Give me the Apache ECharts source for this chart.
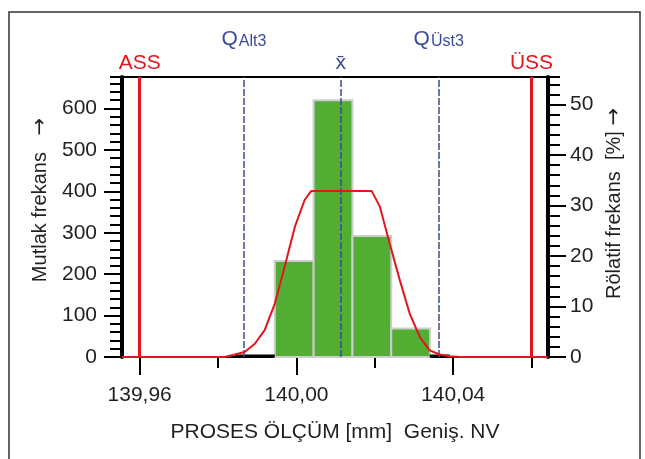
<!DOCTYPE html>
<html><head><meta charset="utf-8">
<script src="https://cdn.jsdelivr.net/npm/echarts@6/dist/echarts.min.js"></script>
<style>html,body{margin:0;padding:0;background:#fff}#c{width:645px;height:459px}</style>
</head><body><div id="c"></div>
<script>
// ---- data ----
const binStart = [139.9945, 140.0044, 140.0143, 140.0242];
const binEnd   = [140.0044, 140.0143, 140.0242, 140.0341];
const binCounts = [232, 620, 292, 69];
const tailStart = [139.9843, 140.0340];
const tailEnd   = [139.9945, 140.0391];
const curveX = [139.9555, 139.9817, 139.9843, 139.9868, 139.9894, 139.9919, 139.9945, 139.9970, 139.9996, 140.0021, 140.0038, 140.0192, 140.0213, 140.0238, 140.0264, 140.0289, 140.0315, 140.0340, 140.0366, 140.0391, 140.0417, 140.0642];
const curveY = [0, 0, 6, 12, 32, 65, 129, 218, 314, 379, 401, 401, 363, 274, 185, 105, 48, 16, 6, 2, 0, 0];
const limitNames = ['ASS', 'QAlt3', 'x̄', 'QÜst3', 'ÜSS'];
const limitValues = [139.96, 139.9866, 140.0113, 140.0363, 140.06];
const xRange = [139.9555, 140.0642];
const xAllTicks = [139.96, 139.98, 140.00, 140.02, 140.04, 140.06];
const xLabelTicks = [139.96, 140.00, 140.04];
const leftTicks = [0, 100, 200, 300, 400, 500, 600];
const rightTicks = [0, 10, 20, 30, 40, 50];
const countMax = 676;
const pctMax = 55.45;
const xTitle = 'PROSES ÖLÇÜM [mm]  Geniş. NV';
const leftTitle = '{t|Mutlak frekans}   {a|→}';
const rightTitle = '{t|Rölatif frekans  [%]} {a|→}';

// ---- styles ----
const FONT = '"Liberation Sans", Arial, sans-serif';
const TXT = '#231f20';
const RED = '#e3161d';
const BLUE = '#3b4a9c';
const GREEN = '#52ad33';

const bins = binStart.map((s, i) => [s, binEnd[i], binCounts[i]]);
const tails = tailStart.map((s, i) => [s, tailEnd[i]]);
const curve = curveX.map((x, i) => [x, curveY[i]]);

const redLine = {color: RED, width: 3, type: 'solid'};
const blueLine = {color: BLUE, width: 1.5, type: [7, 2]};
const limitStyles = [
  {line: redLine, label: {formatter: '{r|ASS}', distance: 3}},
  {line: blueLine, label: {formatter: '{q|Q}{s|Alt3}', distance: 27}},
  {line: blueLine, label: {formatter: '{b|x\u0304}', distance: 3}},
  {line: blueLine, label: {formatter: '{q|Q}{s|Üst3}', distance: 27}},
  {line: redLine, label: {formatter: '{r|ÜSS}', distance: 3}}
];
const rich = {
  r: {color: RED, fontSize: 21, fontFamily: FONT},
  b: {color: BLUE, fontSize: 21, fontFamily: FONT},
  q: {color: BLUE, fontSize: 21, fontFamily: FONT},
  s: {color: BLUE, fontSize: 16, fontFamily: FONT, verticalAlign: 'bottom', padding: [0, 0, 0, 1]}
};
const nameRich = {
  t: {color: TXT, fontSize: 20, fontFamily: FONT},
  a: {color: TXT, fontSize: 21, fontFamily: '"DejaVu Sans", sans-serif'}
};

const tickStyle = {color: '#000', width: 2};
const labelStyle = {color: TXT, fontSize: 21, fontFamily: FONT};

const chart = echarts.init(document.getElementById('c'));
chart.setOption({
  animation: false,
  backgroundColor: '#fff',
  graphic: [{type: 'rect', shape: {x: 9, y: 12, width: 631, height: 470}, style: {fill: 'none', stroke: '#333', lineWidth: 1.5}, z: 100}],
  grid: {left: 122, right: 97, top: 77, bottom: 102, containLabel: false},
  xAxis: [
    {type: 'value', min: xRange[0], max: xRange[1], position: 'bottom',
     axisLine: {show: true, onZero: false, lineStyle: {color: '#000', width: 2}},
     axisTick: {show: true, customValues: xAllTicks, length: 11, lineStyle: tickStyle},
     axisLabel: {show: false}, splitLine: {show: false}},
    {type: 'value', min: xRange[0], max: xRange[1], position: 'bottom',
     axisLine: {show: false, onZero: false},
     axisTick: {show: true, customValues: xLabelTicks, length: 18, lineStyle: tickStyle},
     axisLabel: Object.assign({customValues: xLabelTicks, margin: 28, formatter: v => v.toFixed(2).replace('.', ',')}, labelStyle),
     splitLine: {show: false},
     name: xTitle, nameLocation: 'middle', nameGap: 65,
     nameTextStyle: {color: TXT, fontSize: 21, fontFamily: FONT}},
    {type: 'value', min: xRange[0], max: xRange[1], position: 'top',
     axisLine: {show: true, onZero: false, lineStyle: {color: '#000', width: 2}},
     axisTick: {show: false}, axisLabel: {show: false}, splitLine: {show: false}}
  ],
  yAxis: [
    {type: 'value', min: 0, max: countMax, position: 'left',
     axisLine: {show: true, lineStyle: {color: '#000', width: 4}},
     axisTick: {show: true, customValues: leftTicks, length: 18, lineStyle: tickStyle},
     axisLabel: Object.assign({customValues: leftTicks, margin: 25}, labelStyle),
     splitLine: {show: false},
     name: leftTitle, nameLocation: 'middle', nameRotate: 90, nameGap: 70,
     nameTextStyle: {color: TXT, fontSize: 20, fontFamily: FONT, padding: [0, 0, 0, 34], rich: nameRich}},
    {type: 'value', min: 0, max: countMax, interval: 20, position: 'left',
     axisLine: {show: false}, axisTick: {show: true, length: 12, lineStyle: tickStyle},
     axisLabel: {show: false}, splitLine: {show: false}},
    {type: 'value', min: 0, max: pctMax, position: 'right',
     axisLine: {show: true, lineStyle: {color: '#000', width: 4}},
     axisTick: {show: true, customValues: rightTicks, length: 18, lineStyle: tickStyle},
     axisLabel: Object.assign({customValues: rightTicks, margin: 22}, labelStyle),
     splitLine: {show: false},
     name: rightTitle, nameLocation: 'middle', nameRotate: 90, nameGap: 55,
     nameTextStyle: {color: TXT, fontSize: 20, fontFamily: FONT, padding: [0, 0, 0, 27], rich: nameRich}},
    {type: 'value', min: 0, max: pctMax, interval: 2, position: 'right',
     axisLine: {show: false}, axisTick: {show: true, length: 12, lineStyle: tickStyle},
     axisLabel: {show: false}, splitLine: {show: false}}
  ],
  series: [
    {type: 'custom', xAxisIndex: 0, yAxisIndex: 0, data: bins, encode: {x: [0, 1], y: 2}, z: 2,
     renderItem: (params, api) => {
       const p0 = api.coord([api.value(0), api.value(2)]);
       const p1 = api.coord([api.value(1), 0]);
       return {type: 'rect', shape: {x: p0[0], y: p0[1], width: p1[0] - p0[0], height: p1[1] - p0[1]},
               style: {fill: GREEN, stroke: '#cdcdcd', lineWidth: 2}};
     }},
    {type: 'custom', xAxisIndex: 0, yAxisIndex: 0, data: tails, encode: {x: [0, 1]}, z: 3,
     renderItem: (params, api) => {
       const p0 = api.coord([api.value(0), 0]);
       const p1 = api.coord([api.value(1), 0]);
       return {type: 'line', shape: {x1: p0[0], y1: p0[1] - 1, x2: p1[0], y2: p1[1] - 1},
               style: {stroke: '#000', lineWidth: 3}};
     }},
    {type: 'line', xAxisIndex: 0, yAxisIndex: 0, data: [], z: 4, silent: true,
     markLine: {silent: true, symbol: 'none', animation: false, precision: 6,
       data: limitValues.map((v, i) => ({
         xAxis: v, name: limitNames[i],
         lineStyle: limitStyles[i].line,
         label: Object.assign({show: true, position: 'end', rich: rich}, limitStyles[i].label)
       }))}},
    {type: 'line', xAxisIndex: 0, yAxisIndex: 0, data: curve, z: 5, showSymbol: false, smooth: false,
     lineStyle: {color: RED, width: 2}, itemStyle: {color: RED}}
  ]
});
</script></body></html>
